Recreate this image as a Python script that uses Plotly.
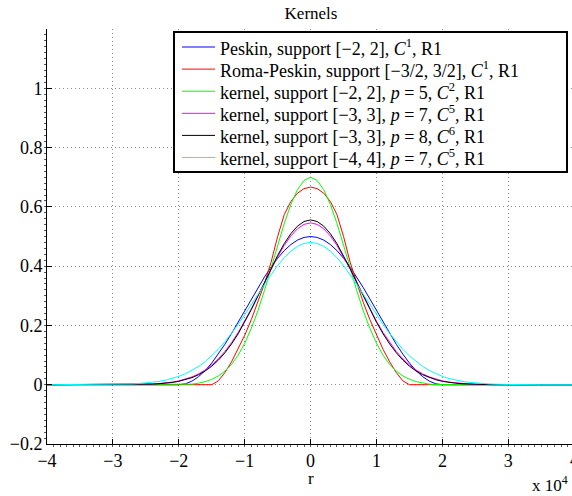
import plotly.graph_objects as go

# r in units of 10^4 (as shown by the "x 10^4" axis multiplier)
r = [-4.0, -3.5, -3.0, -2.9, -2.8, -2.7, -2.6, -2.5, -2.4, -2.3, -2.2, -2.1,
     -2.0, -1.9, -1.8, -1.7, -1.6, -1.5, -1.4, -1.3, -1.2, -1.1, -1.0, -0.9,
     -0.8, -0.7, -0.6, -0.5, -0.4, -0.3, -0.2, -0.1, 0.0, 0.1, 0.2, 0.3, 0.4,
     0.5, 0.6, 0.7, 0.8, 0.9, 1.0, 1.1, 1.2, 1.3, 1.4, 1.5, 1.6, 1.7, 1.8,
     1.9, 2.0, 2.1, 2.2, 2.3, 2.4, 2.5, 2.6, 2.7, 2.8, 2.9, 3.0, 3.5, 4.0]

peskin = [0, 0, 0, 0, 0, 0, 0, 0, 0, 0, 0, 0, 0,
          0.0031, 0.0122, 0.0272, 0.0477, 0.0732, 0.1031, 0.1365, 0.1727, 0.2109, 0.2500,
          0.2891, 0.3273, 0.3635, 0.3969, 0.4268, 0.4523, 0.4728, 0.4878, 0.4969,
          0.5000,
          0.4969, 0.4878, 0.4728, 0.4523, 0.4268, 0.3969, 0.3635, 0.3273, 0.2891,
          0.2500, 0.2109, 0.1727, 0.1365, 0.1031, 0.0732, 0.0477, 0.0272, 0.0122, 0.0031,
          0, 0, 0, 0, 0, 0, 0, 0, 0, 0, 0, 0, 0]

roma_peskin = [0, 0, 0, 0, 0, 0, 0, 0, 0, 0, 0, 0, 0, 0, 0, 0, 0,
               0, 0.0131, 0.0409, 0.0770, 0.1192, 0.1667, 0.2192, 0.2770, 0.3409, 0.4131,
               0.5000, 0.5737, 0.6181, 0.6460, 0.6616,
               0.6667,
               0.6616, 0.6460, 0.6181, 0.5737, 0.5000,
               0.4131, 0.3409, 0.2770, 0.2192, 0.1667, 0.1192, 0.0770, 0.0409, 0.0131, 0,
               0, 0, 0, 0, 0, 0, 0, 0, 0, 0, 0, 0, 0, 0, 0, 0, 0]

kernel_p5 = [0, 0, 0, 0, 0, 0, 0, 0, 0, 0, 0, 0,
             0, 0.0005, 0.0020, 0.0052, 0.0105, 0.0186, 0.0297, 0.0459, 0.0686, 0.0994,
             0.1400, 0.1900, 0.2490, 0.3180, 0.3930, 0.4710, 0.5440, 0.6080, 0.6580, 0.6890,
             0.7000,
             0.6890, 0.6580, 0.6080, 0.5440, 0.4710, 0.3930, 0.3180, 0.2490, 0.1900, 0.1400,
             0.0994, 0.0686, 0.0459, 0.0297, 0.0186, 0.0105, 0.0052, 0.0020, 0.0005, 0,
             0, 0, 0, 0, 0, 0, 0, 0, 0, 0, 0, 0]

kernel_p7 = [0, 0,
             0, 0.0001, 0.0002, 0.0005, 0.0009, 0.0015, 0.0025, 0.0039, 0.0059, 0.0088,
             0.0129, 0.0186, 0.0263, 0.0365, 0.0497, 0.0664, 0.0871, 0.1122, 0.1418, 0.1759,
             0.2141, 0.2557, 0.2999, 0.3451, 0.3898, 0.4320, 0.4700, 0.5019, 0.5259, 0.5409,
             0.5460,
             0.5409, 0.5259, 0.5019, 0.4700, 0.4320, 0.3898, 0.3451, 0.2999, 0.2557, 0.2141,
             0.1759, 0.1418, 0.1122, 0.0871, 0.0664, 0.0497, 0.0365, 0.0263, 0.0186, 0.0129,
             0.0088, 0.0059, 0.0039, 0.0025, 0.0015, 0.0009, 0.0005, 0.0002, 0.0001, 0,
             0, 0]

kernel_p8 = [0, 0,
             0, 0.0001, 0.0002, 0.0004, 0.0008, 0.0013, 0.0021, 0.0033, 0.0051, 0.0077,
             0.0114, 0.0167, 0.0239, 0.0336, 0.0463, 0.0626, 0.0829, 0.1078, 0.1374, 0.1717,
             0.2106, 0.2532, 0.2987, 0.3455, 0.3920, 0.4362, 0.4760, 0.5095, 0.5348, 0.5506,
             0.5560,
             0.5506, 0.5348, 0.5095, 0.4760, 0.4362, 0.3920, 0.3455, 0.2987, 0.2532, 0.2106,
             0.1717, 0.1374, 0.1078, 0.0829, 0.0626, 0.0463, 0.0336, 0.0239, 0.0167, 0.0114,
             0.0077, 0.0051, 0.0033, 0.0021, 0.0013, 0.0008, 0.0004, 0.0002, 0.0001, 0,
             0, 0]

kernel_p7_wide = [0, 0.0001,
                  0.0008, 0.0012, 0.0018, 0.0027, 0.0040, 0.0057, 0.0081, 0.0113, 0.0155, 0.0210,
                  0.0281, 0.0371, 0.0482, 0.0618, 0.0781, 0.0973, 0.1195, 0.1448, 0.1729, 0.2035,
                  0.2362, 0.2702, 0.3049, 0.3391, 0.3718, 0.4020, 0.4285, 0.4503, 0.4666, 0.4766,
                  0.4800,
                  0.4766, 0.4666, 0.4503, 0.4285, 0.4020, 0.3718, 0.3391, 0.3049, 0.2702, 0.2362,
                  0.2035, 0.1729, 0.1448, 0.1195, 0.0973, 0.0781, 0.0618, 0.0482, 0.0371, 0.0281,
                  0.0210, 0.0155, 0.0113, 0.0081, 0.0057, 0.0040, 0.0027, 0.0018, 0.0012, 0.0008,
                  0.0001, 0]

series_names = [
    "Peskin, support [\u22122, 2], <i>C</i><sup>1</sup>, R1",
    "Roma-Peskin, support [\u22123/2, 3/2], <i>C</i><sup>1</sup>, R1",
    "kernel, support [\u22122, 2], <i>p</i> = 5, <i>C</i><sup>2</sup>, R1",
    "kernel, support [\u22123, 3], <i>p</i> = 7, <i>C</i><sup>5</sup>, R1",
    "kernel, support [\u22123, 3], <i>p</i> = 8, <i>C</i><sup>6</sup>, R1",
    "kernel, support [\u22124, 4], <i>p</i> = 7, <i>C</i><sup>5</sup>, R1",
]
series_values = [peskin, roma_peskin, kernel_p5, kernel_p7, kernel_p8, kernel_p7_wide]
series_colors = ["#0000ff", "#ff0000", "#00ff00", "#ff00ff", "#000000", "#00ffff"]

x_tick_vals = [-4, -3, -2, -1, 0, 1, 2, 3]
x_tick_text = ["\u22124", "\u22123", "\u22122", "\u22121", "0", "1", "2", "3"]
y_tick_vals = [-0.2, 0, 0.2, 0.4, 0.6, 0.8, 1.0]
y_tick_text = ["\u22120.2", "0", "0.2", "0.4", "0.6", "0.8", "1"]

SERIF = "'Liberation Serif', 'Times New Roman', Times, 'DejaVu Serif', serif"
W, H = 572, 496
L, T, B = 47, 29, 52
plot_w = W - L
plot_h = H - T - B
x_right = -4 + plot_w / 65.9


def px_x(p):
    return (p - L) / plot_w


def px_y(p):
    return (H - B - p) / plot_h


fig = go.Figure()
for name, vals, color in zip(series_names, series_values, series_colors):
    fig.add_trace(go.Scatter(x=r, y=vals, mode="lines", name=name,
                             line=dict(color=color, width=1), showlegend=False))

# Legend box drawn in the axes' upper part (MATLAB-style boxed legend)
shapes = [dict(type="rect", xref="paper", yref="paper",
               x0=px_x(174), x1=px_x(567), y0=px_y(172), y1=px_y(32),
               line=dict(color="black", width=2), fillcolor="white", layer="above")]
annotations = []
row0, row_step = 47.0, 22.1
for i, (name, color) in enumerate(zip(series_names, series_colors)):
    yc = row0 + i * row_step
    shapes.append(dict(type="line", xref="paper", yref="paper",
                       x0=px_x(182), x1=px_x(215), y0=px_y(yc), y1=px_y(yc),
                       line=dict(color=color, width=1), layer="above"))
    annotations.append(dict(text=name, x=px_x(218), xref="paper", y=px_y(yc), yref="paper",
                            showarrow=False, xanchor="left", yanchor="middle",
                            font=dict(family=SERIF, size=18, color="black")))

annotations += [
    dict(text="r", x=0, xref="x", y=px_y(478), yref="paper",
         showarrow=False, xanchor="center", yanchor="middle",
         font=dict(family=SERIF, size=17, color="black")),
    dict(text="x 10<sup>4</sup>", x=px_x(570), xref="paper",
         y=px_y(484), yref="paper", showarrow=False,
         xanchor="right", yanchor="middle",
         font=dict(family=SERIF, size=17, color="black")),
    dict(text="4", x=px_x(574.3), xref="paper",
         y=px_y(460), yref="paper", showarrow=False,
         xanchor="center", yanchor="middle",
         font=dict(family=SERIF, size=18, color="black")),
]

grid = dict(showgrid=True, gridcolor="#8a8a8a", gridwidth=1, griddash="1px,3px")

fig.update_layout(
    width=W, height=H, autosize=False,
    margin=dict(l=L, r=0, t=T, b=B, pad=0, autoexpand=False),
    paper_bgcolor="white", plot_bgcolor="white",
    font=dict(family=SERIF, size=18, color="black"),
    title=dict(text="Kernels", x=px_x(311), xref="paper", xanchor="center",
               y=1 - 13 / H, yref="container", yanchor="middle",
               font=dict(family=SERIF, size=17, color="black")),
    xaxis=dict(range=[-4, x_right], tickvals=x_tick_vals, ticktext=x_tick_text,
               showline=True, linecolor="black", linewidth=1, mirror=False,
               ticks="inside", ticklen=5, tickcolor="black", zeroline=False,
               automargin=False,
               tickfont=dict(family=SERIF, size=18, color="black"),
               minor=dict(dtick=0.1, tick0=0, ticks="outside", ticklen=2,
                          tickcolor="#555555", showgrid=False),
               **grid),
    yaxis=dict(range=[-0.2, 1.2], tickvals=y_tick_vals, ticktext=y_tick_text,
               showline=True, linecolor="black", linewidth=1, mirror=False,
               ticks="inside", ticklen=5, tickcolor="black", zeroline=False,
               automargin=False,
               tickfont=dict(family=SERIF, size=18, color="black"),
               minor=dict(dtick=0.02, tick0=0, ticks="outside", ticklen=2,
                          tickcolor="#555555", showgrid=False),
               **grid),
    showlegend=False,
    shapes=shapes,
    annotations=annotations,
)

fig.write_html(
    "out.html",
    config={"displayModeBar": False},
    post_script="document.body.style.margin='0px';"
                "document.documentElement.style.overflow='hidden';",
)
